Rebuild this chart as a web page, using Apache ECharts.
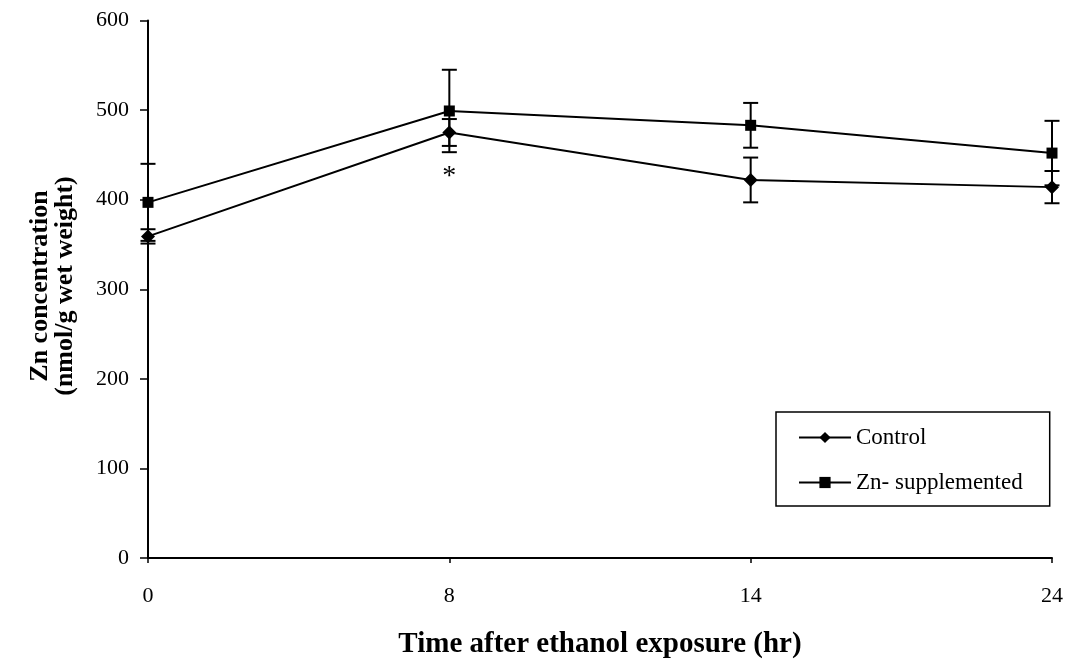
<!DOCTYPE html>
<html>
<head>
<meta charset="utf-8">
<script src="https://cdn.jsdelivr.net/npm/echarts@6/dist/echarts.min.js"></script>
<style>
html,body{margin:0;padding:0;background:#fff;}
#chart{width:1074px;height:664px;}
</style>
</head>
<body>
<div id="chart"></div>
<script>
var categories = ['0', '8', '14', '24'];
var controlValues = [359, 475, 422, 414];
var controlErrors = [8, 15, 25, 18];
var znValues = [397, 499, 483, 452];
var znErrors = [43, 46, 25, 36];
var yTicks = [0, 100, 200, 300, 400, 500, 600];
var annotations = [{ x: '8', y: 435, text: '*' }];

var FONT = '"Liberation Serif", "Times New Roman", serif';

function errData(vals, errs) {
  return vals.map(function (v, i) { return [i, v - errs[i], v + errs[i]]; });
}

function errorSeries(vals, errs) {
  return {
    type: 'custom',
    silent: true,
    z: 1,
    data: errData(vals, errs),
    renderItem: function (params, api) {
      var x = api.value(0);
      var lo = api.coord([x, api.value(1)]);
      var hi = api.coord([x, api.value(2)]);
      var w = 7.5;
      var st = { stroke: '#000', lineWidth: 2 };
      return {
        type: 'group',
        children: [
          { type: 'line', shape: { x1: lo[0], y1: lo[1], x2: hi[0], y2: hi[1] }, style: st },
          { type: 'line', shape: { x1: lo[0] - w, y1: lo[1], x2: lo[0] + w, y2: lo[1] }, style: st },
          { type: 'line', shape: { x1: hi[0] - w, y1: hi[1], x2: hi[0] + w, y2: hi[1] }, style: st }
        ]
      };
    }
  };
}

var chart = echarts.init(document.getElementById('chart'));
chart.setOption({
  animation: false,
  backgroundColor: '#fff',
  grid: { left: 148, right: 22, top: 20.5, bottom: 106 },
  xAxis: {
    type: 'category',
    data: categories,
    boundaryGap: false,
    axisLine: { lineStyle: { color: '#000', width: 2 } },
    axisTick: { show: true, length: 5, lineStyle: { color: '#000', width: 1.5 } },
    axisLabel: { color: '#000', fontFamily: FONT, fontSize: 22, margin: 27 },
    splitLine: { show: false }
  },
  yAxis: {
    type: 'value',
    min: yTicks[0],
    max: yTicks[yTicks.length - 1],
    interval: 100,
    axisLine: { show: true, lineStyle: { color: '#000', width: 2 } },
    axisTick: { show: true, length: 8, lineStyle: { color: '#000', width: 1.5 } },
    axisLabel: { color: '#000', fontFamily: FONT, fontSize: 22, margin: 19 },
    splitLine: { show: false }
  },
  legend: {
    orient: 'vertical',
    left: 776,
    top: 412,
    itemWidth: 52,
    itemHeight: 14,
    itemGap: 22,
    padding: [14, 27, 12, 22],
    borderColor: '#000',
    borderWidth: 1.5,
    textStyle: { color: '#000', fontFamily: FONT, fontSize: 23 },
    data: ['Control', 'Zn- supplemented']
  },
  graphic: [
    {
      type: 'text',
      x: 600,
      y: 645,
      style: {
        text: 'Time after ethanol exposure (hr)',
        font: 'bold 29px ' + FONT,
        fill: '#000',
        align: 'center',
        verticalAlign: 'middle'
      }
    },
    {
      type: 'text',
      x: 53,
      y: 286,
      rotation: Math.PI / 2,
      style: {
        text: 'Zn concentration\n(nmol/g wet weight)',
        font: 'bold 26px ' + FONT,
        fill: '#000',
        align: 'center',
        verticalAlign: 'middle',
        lineHeight: 25
      }
    }
  ],
  series: [
    errorSeries(controlValues, controlErrors),
    errorSeries(znValues, znErrors),
    {
      name: 'Control',
      type: 'line',
      data: controlValues,
      symbol: 'diamond',
      symbolSize: 14,
      z: 3,
      lineStyle: { color: '#000', width: 2 },
      itemStyle: { color: '#000' },
      markPoint: {
        symbol: 'circle',
        symbolSize: 0,
        data: annotations.map(function (a) {
          return { coord: [a.x, a.y], value: a.text };
        }),
        label: { show: true, formatter: '{c}', color: '#000', fontFamily: FONT, fontSize: 28, position: 'inside', offset: [0, 8] }
      }
    },
    {
      name: 'Zn- supplemented',
      type: 'line',
      data: znValues,
      symbol: 'rect',
      symbolSize: 11,
      z: 3,
      lineStyle: { color: '#000', width: 2 },
      itemStyle: { color: '#000' }
    }
  ]
});
</script>
</body>
</html>
